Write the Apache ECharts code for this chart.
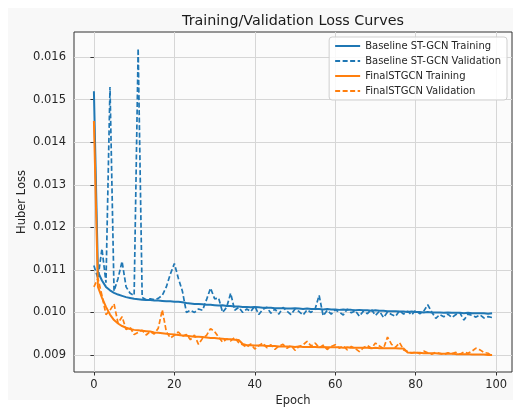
<!DOCTYPE html>
<html>
<head>
<meta charset="utf-8">
<script src="https://cdn.jsdelivr.net/npm/echarts@6/dist/echarts.min.js"></script>
<style>
  html, body { margin: 0; padding: 0; background: #ffffff; }
  #chart { width: 521px; height: 407px; }
</style>
</head>
<body>
<div id="chart"></div>
<script>
// Epoch index for every recorded value
const epochs = Array.from({ length: 100 }, (_, i) => i);

// Baseline ST-GCN training loss per epoch
const baselineTrain = [
  0.0152, 0.01095, 0.01075, 0.0106, 0.01052, 0.01046, 0.01042, 0.01039, 0.01036, 0.01034,
  0.01032, 0.01031, 0.0103, 0.01029, 0.01029, 0.01028, 0.01028, 0.01027, 0.01026, 0.01026,
  0.01025, 0.01025, 0.01024, 0.01022, 0.01021, 0.0102, 0.0102, 0.01019, 0.01018, 0.01018,
  0.01017, 0.01016, 0.01017, 0.01015, 0.01015, 0.01014, 0.01014, 0.01013, 0.01013, 0.01012,
  0.01013, 0.01012, 0.01011, 0.01011, 0.01011, 0.0101, 0.0101, 0.0101, 0.01009, 0.01009,
  0.0101, 0.01009, 0.01008, 0.01009, 0.01008, 0.01008, 0.01008, 0.01007, 0.01008, 0.01007,
  0.01007, 0.01006, 0.01007, 0.01006, 0.01006, 0.01005, 0.01006, 0.01005, 0.01005, 0.01004,
  0.01005, 0.01004, 0.01004, 0.01003, 0.01003, 0.01003, 0.01002, 0.01002, 0.01001, 0.01002,
  0.01001, 0.01001, 0.01, 0.01001, 0.01, 0.01, 0.01, 0.00999, 0.01, 0.00999,
  0.00999, 0.00999, 0.00998, 0.00999, 0.00998, 0.00998, 0.00998, 0.00998, 0.00997, 0.00998
];

// Baseline ST-GCN validation loss per epoch
const baselineVal = [
  0.0111, 0.0108, 0.0115, 0.0107, 0.0153, 0.0105, 0.0108, 0.0112, 0.0106, 0.01045,
  0.0104, 0.0162, 0.01035, 0.0103, 0.01032, 0.0103, 0.01033, 0.0104, 0.0106, 0.0109,
  0.01115, 0.0108, 0.0105, 0.0100, 0.01005, 0.0100, 0.01008, 0.01005, 0.0103, 0.01057,
  0.01032, 0.01034, 0.0100, 0.01012, 0.01045, 0.01005, 0.01012, 0.0100, 0.01008, 0.01002,
  0.01015, 0.00995, 0.01007, 0.01012, 0.00998, 0.01008, 0.00996, 0.01012, 0.01003, 0.00995,
  0.01008, 0.01002, 0.00994, 0.01006, 0.0100, 0.01008, 0.0104, 0.00992, 0.01005, 0.00996,
  0.01006, 0.01001, 0.00994, 0.01008, 0.00999, 0.01004, 0.00991, 0.01003, 0.00997, 0.01007,
  0.00993, 0.01003, 0.00988, 0.01001, 0.00995, 0.00991, 0.01004, 0.00996, 0.01003, 0.00994,
  0.01005, 0.00997, 0.01003, 0.01018, 0.01001, 0.00986, 0.00995, 0.0099, 0.00996, 0.00988,
  0.00995, 0.00999, 0.00982, 0.00996, 0.00993, 0.00989, 0.00994, 0.00987, 0.0099, 0.00988
];

// FinalSTGCN training loss per epoch
const finalTrain = [
  0.0145, 0.0106, 0.01035, 0.01013, 0.00995, 0.00982, 0.00974, 0.00968, 0.00964, 0.00961,
  0.00959, 0.00958, 0.00957, 0.00956, 0.00955, 0.00953, 0.00952, 0.00951, 0.0095, 0.00949,
  0.00948, 0.00947, 0.00946, 0.00945, 0.00944, 0.00943, 0.00943, 0.00942, 0.00941, 0.0094,
  0.0094, 0.00939, 0.00938, 0.00937, 0.00937, 0.00936, 0.00935, 0.00926, 0.00923, 0.00923,
  0.00922, 0.00922, 0.00922, 0.00921, 0.00921, 0.00921, 0.0092, 0.0092, 0.0092, 0.0092,
  0.00919, 0.0092, 0.00919, 0.00919, 0.00919, 0.00919, 0.00918, 0.00919, 0.00918, 0.00918,
  0.00918, 0.00918, 0.00917, 0.00918, 0.00917, 0.00917, 0.00917, 0.00917, 0.00917, 0.00916,
  0.00917, 0.00916, 0.00916, 0.00916, 0.00916, 0.00916, 0.00915, 0.00915, 0.00906, 0.00905,
  0.00905, 0.00905, 0.00904, 0.00904, 0.00904, 0.00904, 0.00903, 0.00903, 0.00903, 0.00903,
  0.00902, 0.00902, 0.00902, 0.00902, 0.00901, 0.00901, 0.00901, 0.00901, 0.009, 0.009
];

// FinalSTGCN validation loss per epoch
const finalVal = [
  0.0106, 0.0108, 0.0104, 0.00995, 0.01005, 0.0102, 0.00975, 0.0099, 0.0096, 0.00965,
  0.00948, 0.00953, 0.00958, 0.00947, 0.00955, 0.00949, 0.00963, 0.01006, 0.00955, 0.0094,
  0.00946, 0.00954, 0.00944, 0.00948, 0.00936, 0.00947, 0.00925, 0.00939, 0.00946, 0.00962,
  0.00955, 0.00942, 0.0093, 0.00938, 0.00933, 0.00941, 0.00929, 0.00924, 0.00918, 0.00926,
  0.00914, 0.00922, 0.00928, 0.00917, 0.00924, 0.00913, 0.00921, 0.00925, 0.00916, 0.00922,
  0.00911, 0.0092, 0.00924, 0.00932, 0.00921, 0.00928, 0.00917, 0.00923, 0.00913, 0.0092,
  0.00924, 0.00916, 0.00921, 0.00912, 0.0092, 0.00915, 0.00908, 0.00917, 0.00922, 0.00916,
  0.00928, 0.00921, 0.00915, 0.00942, 0.00925, 0.00918, 0.00929, 0.00912, 0.00908, 0.00904,
  0.00907, 0.00903, 0.00909, 0.00905, 0.00902, 0.00906, 0.00904, 0.00901, 0.00905, 0.00903,
  0.00906, 0.00902, 0.00907, 0.00904, 0.00909, 0.00916, 0.00912, 0.00906, 0.00904, 0.00897
];

// Tick positions shown on each axis
const xTicks = [0, 20, 40, 60, 80, 100];
const yTicks = [0.009, 0.010, 0.011, 0.012, 0.013, 0.014, 0.015, 0.016];

const seriesNames = [
  'Baseline ST-GCN Training',
  'Baseline ST-GCN Validation',
  'FinalSTGCN Training',
  'FinalSTGCN Validation'
];

const BLUE = '#1f77b4';
const ORANGE = '#ff7f0e';
const FONT = 'DejaVu Sans';

const pairs = (vals) => epochs.map((e, i) => [e, vals[i]]);

function lineSeries(name, vals, color, dashed) {
  return {
    name: name,
    type: 'line',
    data: pairs(vals),
    symbol: 'none',
    showSymbol: false,
    animation: false,
    lineStyle: {
      color: color,
      width: dashed ? 1.7 : 2,
      type: dashed ? [5, 2.5] : 'solid'
    },
    itemStyle: { color: color }
  };
}

const chart = echarts.init(document.getElementById('chart'), null, { renderer: 'canvas' });

chart.setOption({
  animation: false,
  backgroundColor: '#ffffff',
  textStyle: { fontFamily: FONT },
  graphic: [
    {
      type: 'rect',
      silent: true,
      z: -10,
      shape: { x: 8, y: 8, width: 505, height: 392 },
      style: { fill: '#f8f8f8' }
    },
    {
      type: 'text',
      x: 293,
      y: 21,
      style: {
        text: 'Training/Validation Loss Curves',
        fontFamily: FONT,
        fontSize: 14.3,
        fill: '#1a1a1a',
        align: 'center',
        verticalAlign: 'middle'
      }
    }
  ],
  grid: {
    left: 74,
    right: 9,
    top: 32,
    bottom: 35,
    outerBoundsMode: 'none',
    containLabel: false,
    show: true,
    backgroundColor: '#fbfbfb',
    borderColor: '#333333',
    borderWidth: 1
  },
  legend: {
    orient: 'vertical',
    right: 14,
    top: 37,
    data: seriesNames,
    itemWidth: 25,
    itemHeight: 10,
    itemGap: 5,
    padding: [4, 6, 4, 5],
    backgroundColor: 'rgba(255,255,255,0.85)',
    borderColor: '#cfcfcf',
    borderWidth: 1,
    borderRadius: 3,
    itemStyle: { opacity: 0 },
    textStyle: { fontFamily: FONT, fontSize: 10, color: '#262626' }
  },
  xAxis: {
    type: 'value',
    min: -4.95,
    max: 103.95,
    name: 'Epoch',
    nameLocation: 'middle',
    nameGap: 23,
    nameMoveOverlap: false,
    nameTextStyle: { fontFamily: FONT, fontSize: 11.5, color: '#262626' },
    axisLine: { show: false },
    axisTick: { show: true, customValues: xTicks, length: 3.5, lineStyle: { color: '#333333' } },
    axisLabel: {
      customValues: xTicks,
      margin: 7,
      fontFamily: FONT,
      fontSize: 11.5,
      color: '#262626'
    },
    splitLine: { show: true, lineStyle: { color: '#d6d6d6', width: 1 } }
  },
  yAxis: {
    type: 'value',
    min: 0.0086,
    max: 0.01659,
    name: 'Huber Loss',
    nameLocation: 'middle',
    nameGap: 46,
    nameMoveOverlap: false,
    nameTextStyle: { fontFamily: FONT, fontSize: 11.5, color: '#262626' },
    axisLine: { show: false },
    axisTick: { show: true, customValues: yTicks, length: 3.5, lineStyle: { color: '#333333' } },
    axisLabel: {
      customValues: yTicks,
      margin: 8,
      fontFamily: FONT,
      fontSize: 11.5,
      color: '#262626',
      formatter: (v) => v.toFixed(3)
    },
    splitLine: { show: true, lineStyle: { color: '#d6d6d6', width: 1 } }
  },
  series: [
    lineSeries(seriesNames[0], baselineTrain, BLUE, false),
    lineSeries(seriesNames[1], baselineVal, BLUE, true),
    lineSeries(seriesNames[2], finalTrain, ORANGE, false),
    lineSeries(seriesNames[3], finalVal, ORANGE, true)
  ]
});
</script>
</body>
</html>
